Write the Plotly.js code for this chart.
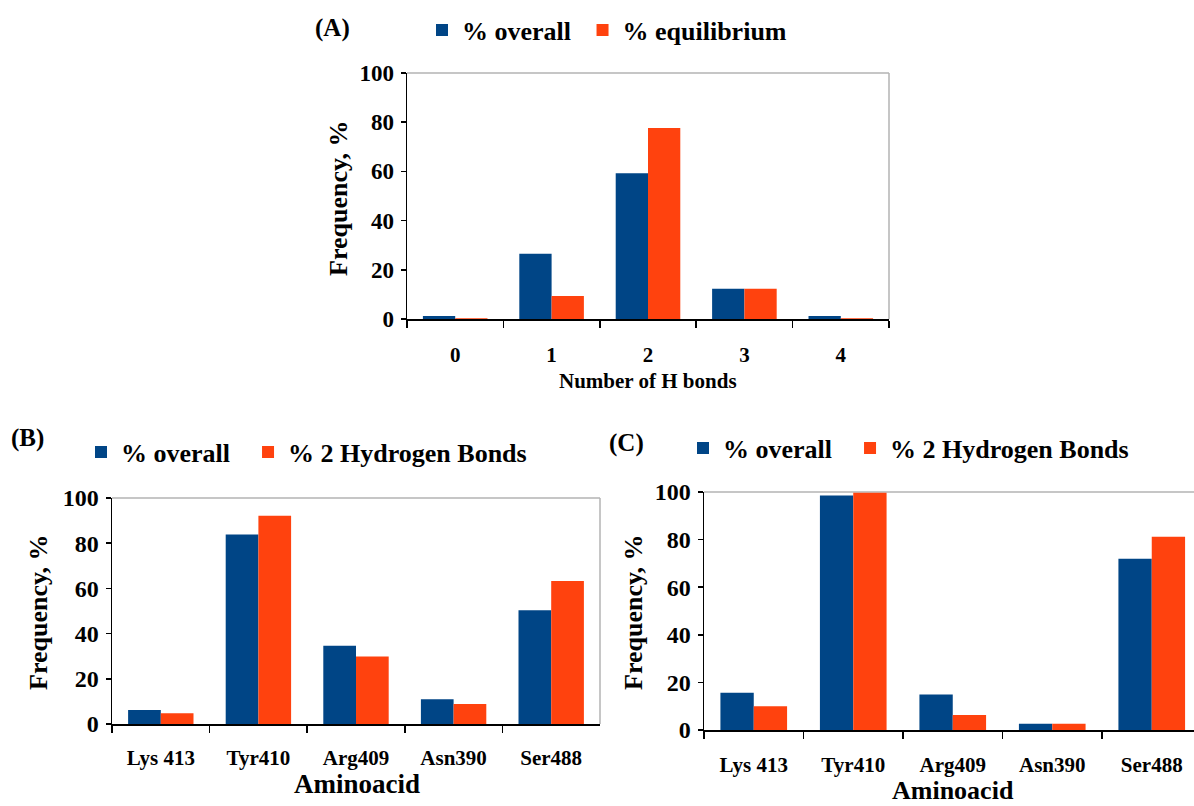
<!DOCTYPE html>
<html>
<head>
<meta charset="utf-8">
<script src="https://cdn.plot.ly/plotly-3.0.1.min.js"></script>
<style>
html,body{margin:0;padding:0;overflow:hidden;background:#fff;}
#chart{width:1194px;height:806px;}
</style>
</head>
<body>
<div id="chart"></div>
<script>
// ---- Data ----
const hbondCategories = ["0", "1", "2", "3", "4"];
const hbondOverall = [1.2, 26.5, 59.2, 12.3, 1.2];
const hbondEquilibrium = [0.3, 9.3, 77.6, 12.3, 0.3];

const aminoCategories = ["Lys 413", "Tyr410", "Arg409", "Asn390", "Ser488"];
const bOverall = [6.2, 83.9, 34.6, 10.9, 50.3];
const bTwoBonds = [4.8, 92.2, 29.9, 8.8, 63.3];
const cOverall = [15.6, 98.5, 14.9, 2.6, 72.0];
const cTwoBonds = [10.0, 99.7, 6.3, 2.6, 81.2];

const yTicks = [0, 20, 40, 60, 80, 100];

// ---- Style ----
const W = 1194, H = 806;
const BLUE = "#004586", ORANGE = "#ff420e";
const FAM = "Liberation Serif, Times New Roman, serif";
const f = (size) => ({family: FAM, size: size, color: "#000", weight: "bold"});
const px = (x) => x / W;
const py = (y) => 1 - y / H;
const NB = "\u00a0";

function bar(x, y, name, color, xa, ya, legend) {
  return {type: "bar", x: x, y: y, name: name, xaxis: xa, yaxis: ya,
          legend: legend, marker: {color: color, line: {width: 0}},
          hoverinfo: "x+y"};
}

const traces = [
  bar(hbondCategories, hbondOverall, "% overall" + NB, BLUE, "x", "y", "legend"),
  bar(hbondCategories, hbondEquilibrium, "% equilibrium", ORANGE, "x", "y", "legend"),
  bar(aminoCategories, bOverall, "% overall" + NB + NB, BLUE, "x2", "y2", "legend2"),
  bar(aminoCategories, bTwoBonds, "% 2 Hydrogen Bonds", ORANGE, "x2", "y2", "legend2"),
  bar(aminoCategories, cOverall, "% overall" + NB + NB, BLUE, "x3", "y3", "legend3"),
  bar(aminoCategories, cTwoBonds, "% 2 Hydrogen Bonds", ORANGE, "x3", "y3", "legend3")
];

function xAxis(domain, anchor, range, tfs, standoff) {
  return {domain: domain, anchor: anchor, type: "category", range: range,
          tickson: "boundaries", ticks: "outside", ticklen: 7, tickwidth: 1.5,
          tickcolor: "#000", showline: true, linecolor: "#000", linewidth: 1.5,
          showgrid: false, zeroline: false, tickfont: f(tfs),
          ticklabelstandoff: standoff, fixedrange: true};
}
function yAxis(domain, anchor, tfs) {
  return {domain: domain, anchor: anchor, range: [0, 100], tickvals: yTicks,
          ticks: "outside", ticklen: 5, tickwidth: 1.5, tickcolor: "#000",
          showline: true, linecolor: "#000", linewidth: 1.5, showgrid: false,
          zeroline: false, tickfont: f(tfs), ticklabelstandoff: 2, fixedrange: true};
}

function border(xa, ya, withRight) {
  const s = [{type: "line", xref: xa + " domain", yref: ya + " domain",
              x0: 0, x1: 1, y0: 1, y1: 1, layer: "below",
              line: {color: "#b3b3b3", width: 1.5}}];
  if (withRight) s.push({type: "line", xref: xa + " domain", yref: ya + " domain",
              x0: 1, x1: 1, y0: 0, y1: 1, layer: "below",
              line: {color: "#b3b3b3", width: 1.5}});
  return s;
}

function ann(text, x, y, size, angle) {
  return {text: text, x: px(x), y: py(y), xref: "paper", yref: "paper",
          xanchor: "center", yanchor: "middle", showarrow: false,
          textangle: angle || 0, font: f(size)};
}

function leg(x, y) {
  return {orientation: "h", x: px(x), y: py(y), xref: "paper", yref: "paper",
          xanchor: "left", yanchor: "middle", font: f(26),
          bgcolor: "rgba(0,0,0,0)", itemclick: false, itemdoubleclick: false};
}

// C axis continues beyond the right edge of the picture
const cLeft = 704, cCat = 99.5;
const cRightVal = -0.5 + (W - cLeft) / cCat;

const layout = {
  width: W, height: H,
  margin: {l: 0, r: 0, t: 0, b: 0},
  paper_bgcolor: "#fff", plot_bgcolor: "#fff",
  bargap: 0.33, bargroupgap: 0, barmode: "group",
  xaxis: xAxis([px(407), px(889)], "y", [-0.5, 4.5], 21, 16),
  yaxis: yAxis([py(319), py(73)], "x", 23),
  xaxis2: xAxis([px(112), px(600)], "y2", [-0.5, 4.5], 21, 14),
  yaxis2: yAxis([py(724), py(498)], "x2", 24),
  xaxis3: xAxis([px(cLeft), 1], "y3", [-0.5, cRightVal], 21, 15),
  yaxis3: yAxis([py(730), py(492)], "x3", 24),
  legend: leg(422, 30),
  legend2: leg(81, 452),
  legend3: leg(683, 448),
  shapes: [].concat(border("x", "y", true), border("x2", "y2", true), border("x3", "y3", false)),
  annotations: [
    ann("(A)", 332, 28, 25),
    ann("(B)", 27, 438, 25),
    ann("(C)", 626, 443, 25),
    ann("Frequency, %", 338, 198, 26, -90),
    ann("Frequency, %", 38, 612, 26, -90),
    ann("Frequency, %", 633, 612, 26, -90),
    ann("Number of H bonds", 648, 381, 21),
    ann("Aminoacid", 357, 784, 27),
    ann("Aminoacid", 953, 790, 26)
  ]
};

Plotly.newPlot("chart", traces, layout, {displayModeBar: false, staticPlot: true});
</script>
</body>
</html>
